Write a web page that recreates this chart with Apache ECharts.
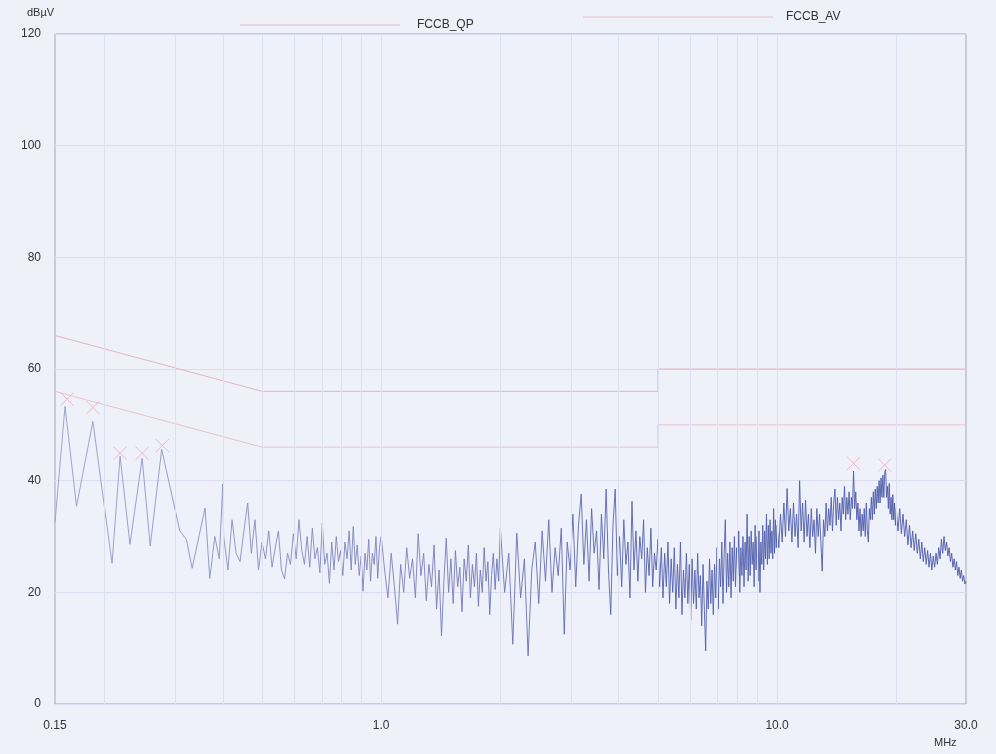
<!DOCTYPE html>
<html>
<head>
<meta charset="utf-8">
<script src="https://cdn.jsdelivr.net/npm/echarts@6/dist/echarts.min.js"></script>
<style>
  html, body { margin: 0; padding: 0; background: #eef0fa; }
  #chart-container { width: 996px; height: 754px; }
</style>
</head>
<body>
<div id="chart-container"></div>
<script>
// 数据部分

// 限值线 (MHz, dBµV)
var qpFreq = [0.15, 0.5, 5, 5, 30];
var qpLevel = [66, 56, 56, 60, 60];
var avFreq = [0.15, 0.5, 5, 5, 30];
var avLevel = [56, 46, 46, 50, 50];

// 峰值标记
var peakFreq = [0.161, 0.187, 0.219, 0.249, 0.280, 15.6, 18.7];
var peakLevel = [54.6, 53.1, 44.9, 44.9, 46.3, 43.1, 42.8];

// x轴刻度
var xTickFreq = [0.15, 1, 10, 30];
var gridFreq = [0.2, 0.3, 0.4, 0.5, 0.6, 0.7, 0.8, 0.9, 1, 2, 3, 4, 5, 6, 7, 8, 9, 10, 20];

// 扫描曲线 [MHz, dBµV]
var traceLow = [
  [0.150, 32.5], [0.159, 53.3], [0.170, 35.4], [0.187, 50.6], [0.209, 25.2],
  [0.219, 44.4], [0.232, 28.6], [0.249, 44.0], [0.261, 28.3], [0.279, 45.6],
  [0.310, 31.0], [0.322, 29.5], [0.333, 24.3], [0.359, 35.1], [0.369, 22.5],
  [0.380, 30.0], [0.390, 26.0], [0.398, 39.4]
];
var traceMid = [
  [0.40, 30], [0.41, 24], [0.42, 33], [0.43, 27], [0.44, 25.5], [0.45, 31],
  [0.46, 36], [0.47, 27], [0.48, 33], [0.49, 24], [0.50, 29], [0.51, 26],
  [0.52, 31], [0.53, 24.5], [0.54, 28], [0.55, 31], [0.56, 24], [0.57, 22.4],
  [0.58, 27], [0.59, 25], [0.60, 30.5], [0.61, 26], [0.62, 33], [0.63, 27.5],
  [0.64, 25], [0.65, 30], [0.66, 24.5], [0.67, 31.5], [0.68, 26], [0.69, 28],
  [0.70, 23.5], [0.71, 32.4], [0.72, 25], [0.73, 27], [0.74, 21.6], [0.75, 29],
  [0.76, 24], [0.77, 30], [0.78, 25.5], [0.79, 27.5], [0.80, 23], [0.81, 29],
  [0.82, 26], [0.83, 31], [0.84, 24], [0.85, 31.8], [0.86, 25], [0.87, 28.5],
  [0.88, 23], [0.89, 26.5], [0.90, 20.2], [0.91, 27], [0.92, 24], [0.93, 29.5],
  [0.94, 22], [0.95, 27], [0.96, 25], [0.97, 30], [0.98, 22.5], [0.99, 28],
  [1.00, 30],
  [1.02, 24], [1.04, 19], [1.06, 27], [1.08, 21], [1.10, 14.3], [1.12, 25],
  [1.14, 20], [1.16, 28], [1.18, 22.5], [1.20, 26], [1.22, 19], [1.24, 30.5],
  [1.26, 23], [1.28, 27], [1.30, 18.5], [1.32, 25], [1.34, 21], [1.36, 28.5],
  [1.38, 17], [1.40, 24], [1.42, 12.2], [1.44, 22], [1.46, 29.7], [1.48, 20],
  [1.50, 26], [1.52, 18], [1.54, 27.5], [1.56, 21], [1.58, 24.5], [1.60, 16.5],
  [1.62, 26], [1.64, 22], [1.66, 28.5], [1.68, 19], [1.70, 25], [1.72, 21],
  [1.74, 27], [1.76, 17.5], [1.78, 24], [1.80, 20], [1.82, 28], [1.84, 22],
  [1.86, 25.5], [1.88, 16], [1.90, 23], [1.92, 27], [1.94, 20.5], [1.96, 26],
  [1.98, 22], [2.00, 31.5]
];
var traceHigh = [
  [2.05, 20], [2.10, 27], [2.15, 10.7], [2.20, 30.6], [2.25, 19], [2.30, 26],
  [2.35, 8.6], [2.40, 24], [2.45, 29], [2.50, 18], [2.55, 31], [2.60, 22],
  [2.65, 33], [2.70, 20], [2.75, 28], [2.80, 23], [2.85, 31.5], [2.90, 12.5],
  [2.95, 29], [3.00, 24], [3.05, 34], [3.10, 21], [3.15, 32], [3.20, 37.6],
  [3.25, 25], [3.30, 33], [3.35, 22], [3.40, 35], [3.45, 27], [3.50, 31],
  [3.55, 20.5], [3.60, 34], [3.65, 26], [3.70, 38.5], [3.75, 24], [3.80, 16],
  [3.85, 32], [3.90, 38.5], [3.95, 23], [4.00, 30], [4.05, 21], [4.10, 33],
  [4.15, 25], [4.20, 29], [4.25, 19], [4.30, 36.3], [4.35, 24], [4.40, 31],
  [4.45, 22], [4.50, 30], [4.55, 26], [4.60, 33], [4.65, 20], [4.70, 28],
  [4.75, 23], [4.80, 31.5], [4.85, 21], [4.90, 27], [4.95, 24], [5.00, 29.5],
  [5.05, 21], [5.10, 28], [5.15, 19], [5.20, 27], [5.25, 21], [5.30, 29],
  [5.35, 18], [5.40, 26], [5.45, 20], [5.50, 28], [5.55, 17], [5.60, 25],
  [5.65, 19], [5.70, 29], [5.75, 16], [5.80, 24], [5.85, 19], [5.90, 27],
  [5.95, 18], [6.00, 25], [6.05, 15], [6.10, 26], [6.15, 18], [6.20, 24],
  [6.25, 17], [6.30, 27], [6.35, 19], [6.40, 23], [6.45, 14], [6.50, 25],
  [6.55, 17], [6.60, 9.5], [6.65, 22], [6.70, 17], [6.75, 26], [6.80, 18],
  [6.85, 24], [6.90, 16], [6.95, 25], [7.00, 19], [7.05, 28], [7.10, 17],
  [7.15, 26], [7.20, 21], [7.25, 29], [7.30, 18], [7.35, 27], [7.40, 33],
  [7.45, 20], [7.50, 27], [7.55, 21], [7.60, 29], [7.65, 19], [7.70, 28],
  [7.75, 22], [7.80, 30], [7.85, 21], [7.90, 28], [7.95, 23], [8.00, 31],
  [8.05, 20], [8.10, 28], [8.15, 23], [8.20, 30], [8.25, 21], [8.30, 29],
  [8.35, 24], [8.40, 34], [8.45, 22], [8.50, 30], [8.55, 23], [8.60, 31],
  [8.65, 25], [8.70, 29], [8.75, 21], [8.80, 32], [8.85, 24], [8.90, 30],
  [8.95, 22], [9.00, 31], [9.05, 20], [9.10, 29], [9.15, 25], [9.20, 32],
  [9.25, 24], [9.30, 31], [9.35, 26], [9.40, 34], [9.45, 25], [9.50, 32],
  [9.55, 26], [9.60, 33], [9.65, 27], [9.70, 31], [9.75, 26], [9.80, 35],
  [9.85, 27], [9.90, 33], [9.95, 28], [10.00, 32],
  [10.1, 28], [10.2, 34], [10.3, 29], [10.4, 36], [10.5, 30], [10.6, 38.6],
  [10.7, 31], [10.8, 35], [10.9, 29], [11.0, 36], [11.1, 30], [11.2, 34],
  [11.3, 28], [11.4, 40], [11.5, 31], [11.6, 36], [11.7, 29], [11.8, 36.5],
  [11.9, 30], [12.0, 34], [12.1, 28], [12.2, 35], [12.3, 30], [12.4, 33],
  [12.5, 27], [12.6, 35], [12.7, 30], [12.8, 34], [12.9, 29], [13.0, 23.8],
  [13.1, 33], [13.2, 30], [13.3, 36], [13.4, 31], [13.5, 35], [13.6, 32],
  [13.7, 37], [13.8, 31], [13.9, 36], [14.0, 38.5], [14.1, 32], [14.2, 37],
  [14.3, 33], [14.4, 36], [14.5, 31], [14.6, 37], [14.7, 34], [14.8, 39],
  [14.9, 33], [15.0, 37], [15.1, 34], [15.2, 38], [15.3, 33], [15.4, 37],
  [15.5, 35], [15.6, 41.7], [15.7, 35], [15.8, 38], [15.9, 33], [16.0, 36],
  [16.1, 31], [16.2, 35], [16.3, 30], [16.4, 34], [16.5, 31], [16.6, 35],
  [16.7, 30], [16.8, 36], [16.9, 31], [17.0, 29], [17.1, 35], [17.2, 33],
  [17.3, 37], [17.4, 33], [17.5, 38], [17.6, 34], [17.7, 38.5], [17.8, 35],
  [17.9, 39], [18.0, 36], [18.1, 40], [18.2, 36], [18.3, 40.5], [18.4, 37],
  [18.5, 41], [18.6, 37], [18.7, 41.5], [18.8, 42], [18.9, 37], [19.0, 39],
  [19.1, 35], [19.2, 39.5], [19.3, 34], [19.4, 37], [19.5, 33], [19.6, 37.5],
  [19.7, 33], [19.8, 36], [19.9, 32], [20.0, 35],
  [20.2, 31], [20.4, 35], [20.6, 30.5], [20.8, 34],
  [21.0, 30], [21.2, 33], [21.4, 28.5], [21.6, 32], [21.8, 28], [22.0, 31],
  [22.2, 27.5], [22.4, 30.5], [22.6, 27], [22.8, 29.5], [23.0, 26], [23.2, 29],
  [23.4, 25.5], [23.6, 28], [23.8, 25], [24.0, 27.5], [24.2, 24.5], [24.4, 27],
  [24.6, 24], [24.8, 26.5], [25.0, 24.5], [25.2, 27], [25.4, 25], [25.6, 28],
  [25.8, 26], [26.0, 29.5], [26.2, 27], [26.4, 30], [26.6, 27.5], [26.8, 29],
  [27.0, 26.5], [27.2, 28], [27.4, 25.5], [27.6, 27], [27.8, 24.5], [28.0, 26],
  [28.2, 24], [28.4, 25.5], [28.6, 23], [28.8, 24.5], [29.0, 22.5], [29.2, 24],
  [29.4, 22], [29.6, 23], [29.8, 21.5], [30.0, 22]
];

// 获取dom
var dom = document.getElementById('chart-container');
var myChart = echarts.init(dom, null, { renderer: 'canvas' });

function lg(f) { return Math.log10(f); }
function toXY(fs, vs) {
  return fs.map(function (f, i) { return [lg(f), vs[i]]; });
}

var trace = traceLow.concat(traceMid, traceHigh).map(function (p) {
  return [lg(p[0]), p[1]];
});

var labelFont = { fontFamily: 'Liberation Sans', fontSize: 12, color: '#333' };

// 曲线颜色: 低频偏灰, 高频偏蓝
var traceColor = new echarts.graphic.LinearGradient(0, 0, 1, 0, [
  { offset: 0, color: '#9a9cc6' },
  { offset: 0.4, color: '#7a80bc' },
  { offset: 0.65, color: '#5160ae' },
  { offset: 1, color: '#4a58a8' }
]);

var option = {
  backgroundColor: '#eef0fa',
  animation: false,
  grid: {
    left: 55, right: 30, top: 34, bottom: 50,
    show: true, borderColor: '#a4a6b4', borderWidth: 1
  },
  legend: [
    {
      left: 235, top: 14,
      icon: 'rect', itemWidth: 160, itemHeight: 1,
      textStyle: { fontFamily: 'Liberation Sans', fontSize: 12, color: '#333', padding: [0, 0, 0, 12] },
      data: ['FCCB_QP']
    },
    {
      left: 578, top: 6,
      icon: 'rect', itemWidth: 190, itemHeight: 1,
      textStyle: { fontFamily: 'Liberation Sans', fontSize: 12, color: '#333', padding: [0, 0, 0, 8] },
      data: ['FCCB_AV']
    }
  ],
  graphic: [
    { type: 'text', left: 27, top: 7, style: { text: 'dBµV', font: '11px "Liberation Sans"', fill: '#333' } },
    { type: 'text', left: 934, top: 737, style: { text: 'MHz', font: '11px "Liberation Sans"', fill: '#333' } }
  ],
  xAxis: {
    type: 'value',
    min: lg(0.15),
    max: lg(30),
    axisLine: { show: false },
    axisTick: { show: false },
    splitLine: { show: false },
    axisLabel: Object.assign({
      customValues: xTickFreq.map(lg),
      margin: 16,
      formatter: function (v) {
        var f = Math.pow(10, v);
        return f < 1 ? f.toFixed(2) : f.toFixed(1);
      }
    }, labelFont)
  },
  yAxis: {
    type: 'value',
    min: 0, max: 120, interval: 20,
    axisLine: { show: false },
    axisTick: { show: false },
    splitLine: { lineStyle: { color: '#dadded', width: 1 } },
    axisLabel: Object.assign({ margin: 14 }, labelFont)
  },
  series: [
    {
      name: 'grid',
      type: 'line',
      data: [],
      silent: true,
      z: 1,
      markLine: {
        silent: true,
        symbol: 'none',
        label: { show: false },
        lineStyle: { color: '#dde0ef', type: 'solid', width: 1 },
        data: gridFreq.map(function (f) { return { xAxis: lg(f) }; })
      }
    },
    {
      name: 'FCCB_QP',
      type: 'line',
      data: toXY(qpFreq, qpLevel),
      showSymbol: false,
      color: '#e2b6c4',
      lineStyle: { width: 1 },
      z: 2
    },
    {
      name: 'FCCB_AV',
      type: 'line',
      data: toXY(avFreq, avLevel),
      showSymbol: false,
      color: '#e6c4d0',
      lineStyle: { width: 1 },
      z: 2
    },
    {
      name: 'trace',
      type: 'line',
      data: trace,
      showSymbol: false,
      lineStyle: { width: 1, color: traceColor, opacity: 0.9 },
      z: 3
    },
    {
      name: 'peaks',
      type: 'scatter',
      data: toXY(peakFreq, peakLevel),
      symbol: 'path://M0,0L10,10M10,0L0,10',
      symbolSize: 13,
      itemStyle: { color: 'none', borderColor: '#eda9bb', borderWidth: 1 },
      z: 4
    }
  ]
};

myChart.setOption(option);
window.addEventListener('resize', myChart.resize);
</script>
</body>
</html>
